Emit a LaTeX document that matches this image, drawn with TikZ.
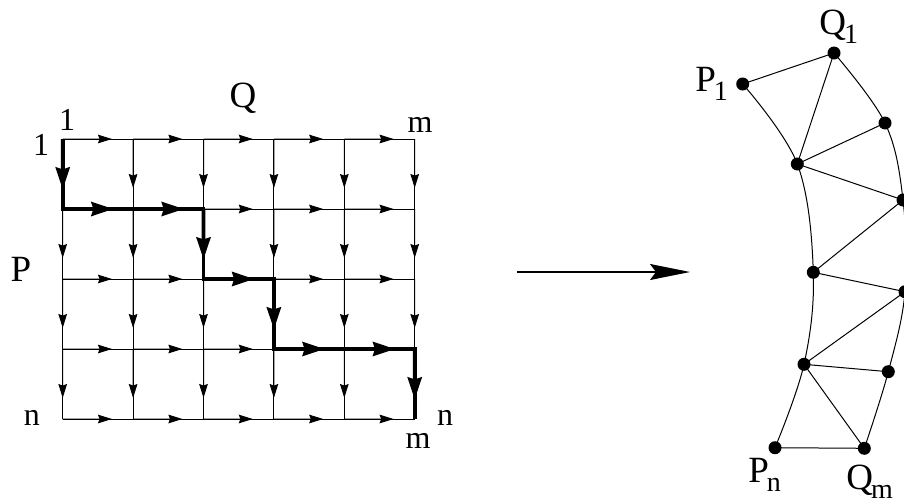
\documentclass[tikz,border=0pt]{standalone}
\usepackage{fontspec}
\setmainfont{Liberation Serif}
\usetikzlibrary{arrows.meta,calc}
\newcommand\lowsub[1]{\kern-1pt\raisebox{-4.5pt}{\fontsize{14}{14}\selectfont #1}}
\begin{document}
\begin{tikzpicture}[x=0.5pt,y=-0.5pt,
  gridline/.style={line width=0.5pt},
  thinarrow/.style={line width=0.5pt,-{Stealth[length=7pt,width=4.3pt,inset=0.8pt]}},
  thickpath/.style={line width=1.9pt,line join=miter},
  thickarrow/.style={line width=1.9pt,-{Stealth[length=11pt,width=7pt,inset=1pt]}},
  big/.style={font=\fontsize{18.5}{22}\selectfont,inner sep=0pt,anchor=base},
  small/.style={font=\fontsize{16}{19}\selectfont,inner sep=0pt,anchor=base},
  edgeline/.style={line width=0.5pt}]
\clip (0,0) rectangle (904,503);
\fill[white] (0,0) rectangle (904,503);
% grid points
\foreach \i in {0,...,5}{
  \foreach \j in {0,...,4}{
    \coordinate (g\i\j) at ({62.7+70.4*\i},{139+70*\j});
  }
}
% horizontal lines
\foreach \j in {0,...,4}{
  \foreach \i/\ii in {0/1,1/2,2/3,3/4,4/5}{
    \draw[gridline] (g\i\j) -- (g\ii\j);
    \draw[thinarrow] (g\i\j) -- ($(g\i\j)!0.7!(g\ii\j)$);
  }
}
% vertical lines
\foreach \i in {0,...,5}{
  \foreach \j/\jj in {0/1,1/2,2/3,3/4}{
    \draw[gridline] (g\i\j) -- (g\i\jj);
    \draw[thinarrow] (g\i\j) -- ($(g\i\j)!0.7!(g\i\jj)$);
  }
}
% thick path
\draw[thickpath] (g00) -- (g01) -- (g21) -- (g22) -- (g32) -- (g33) -- (g53) -- (g54);
\foreach \a/\b in {g00/g01,g01/g11,g11/g21,g21/g22,g22/g32,g32/g33,g33/g43,g43/g53,g53/g54}{
  \draw[thickarrow] (\a) -- ($(\a)!0.72!(\b)$);
}
% grid labels
\node[big] (lQ) at (243,107) {Q};
\node[big] (lP) at (21,281) {P};
\node[small] (t1) at (67,130) {1};
\node[small] (l1) at (41,155) {1};
\node[small] (tm) at (420,132) {m};
\node[small] (ln) at (32,425) {n};
\node[small] (rn) at (445,425) {n};
\node[small] (bm) at (418,448) {m};
% middle arrow
\coordinate (a1) at (517,272);
\coordinate (a2) at (690,272);
\draw[line width=0.8pt,-{Stealth[length=20pt,width=8pt,inset=3pt]}] (a1) -- (a2);
% right graph
\coordinate (P1) at (742.7,84);
\coordinate (Q1) at (834,53);
\coordinate (A) at (885,123);
\coordinate (B) at (797.3,164);
\coordinate (C) at (903,200);
\coordinate (D) at (813.3,272.3);
\coordinate (E) at (905,291.7);
\coordinate (F) at (804,364.3);
\coordinate (G) at (888.3,371.7);
\coordinate (Pn) at (775,447.7);
\coordinate (Qm) at (864.3,448.3);
\draw[edgeline] plot[smooth,tension=0.6] coordinates {(P1) (B) (D) (F) (Pn)};
\draw[edgeline] plot[smooth,tension=0.6] coordinates {(Q1) (A) (C) (E) (G) (Qm)};
\draw[edgeline] (P1) -- (Q1);
\draw[edgeline] (Q1) -- (B);
\draw[edgeline] (A) -- (B);
\draw[edgeline] (B) -- (C);
\draw[edgeline] (C) -- (D);
\draw[edgeline] (D) -- (E);
\draw[edgeline] (E) -- (F);
\draw[edgeline] (F) -- (G);
\draw[edgeline] (F) -- (Qm);
\draw[edgeline] (Pn) -- (Qm);
\foreach \p in {P1,Q1,A,B,C,D,E,F,G,Pn,Qm}{
  \fill (\p) circle (3.25pt);
}
\node[big,anchor=base west] (lP1) at (695,91) {P\lowsub{1}};
\node[big,anchor=base west] (lQ1) at (819,34) {Q\lowsub{1}};
\node[big,anchor=base west] (lPn) at (748,482) {P\lowsub{n}};
\node[big,anchor=base west] (lQm) at (846,489) {Q\lowsub{m}};
\end{tikzpicture}
\end{document}
